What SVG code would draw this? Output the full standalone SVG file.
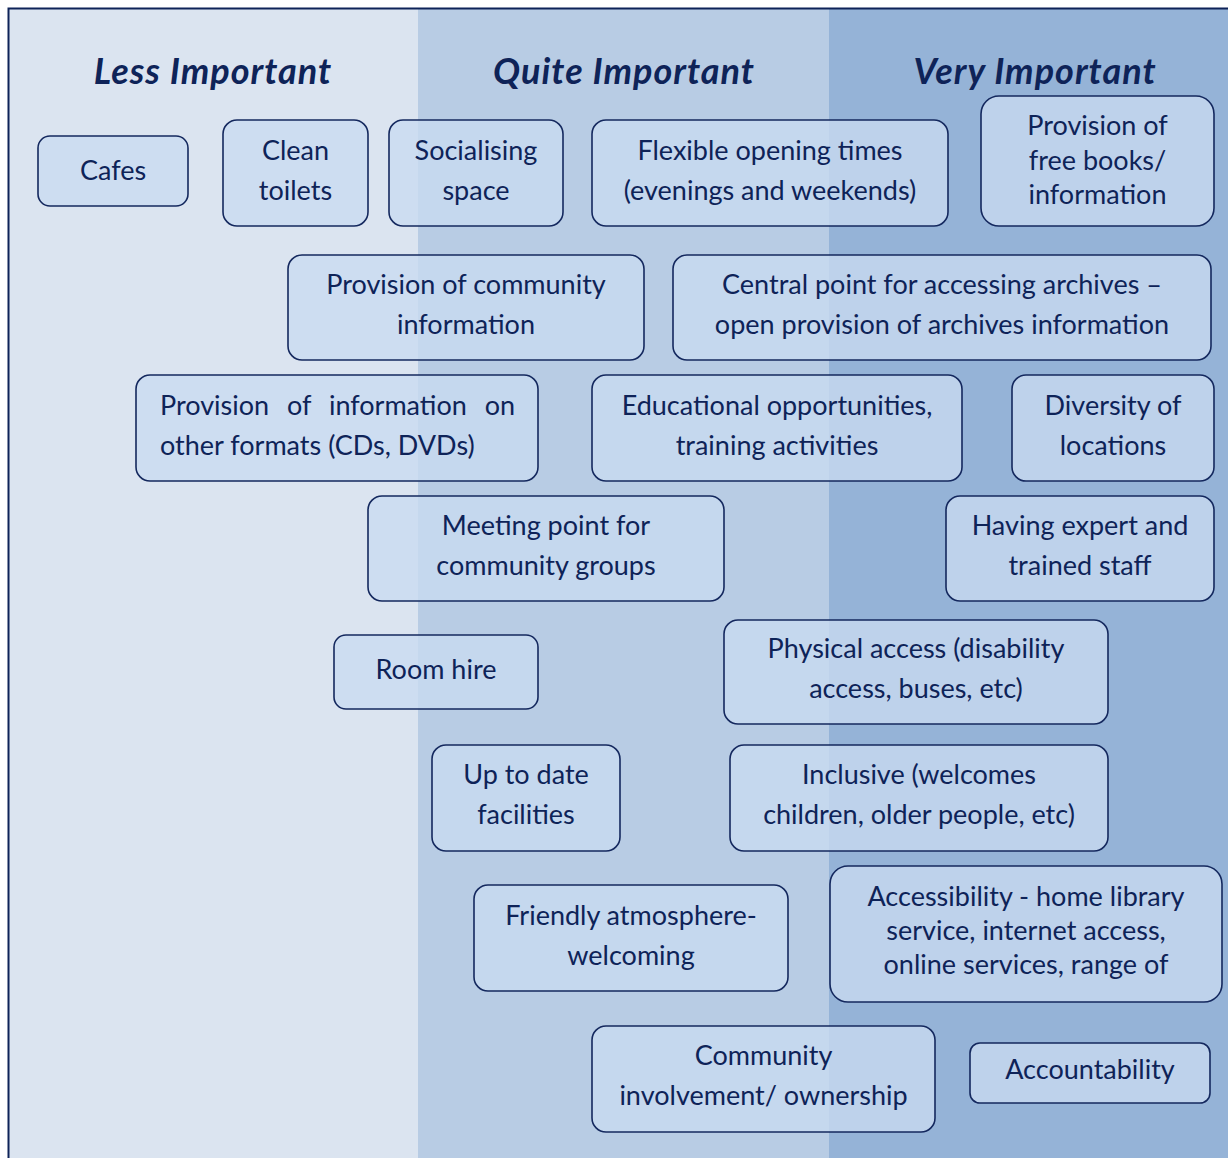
<svg xmlns="http://www.w3.org/2000/svg" width="1228" height="1158" viewBox="0 0 1228 1158">
<style>
.n rect{fill:#C9DBF1;fill-opacity:0.78;stroke:#14285E;stroke-width:1.6}
.n text{font-family:Lato,"Open Sans","Liberation Sans",sans-serif;font-size:27px;fill:#0E2358;text-anchor:middle}
.h{font-family:Lato,"Open Sans","Liberation Sans",sans-serif;font-size:36px;font-weight:bold;font-style:italic;fill:#0E2358;text-anchor:middle;letter-spacing:1px}
</style>
<rect x="0" y="0" width="1228" height="1158" fill="#ffffff"/>
<rect x="9" y="9" width="409" height="1149" fill="#DBE4F0"/>
<rect x="418" y="9" width="411" height="1149" fill="#B8CCE4"/>
<rect x="829" y="9" width="399" height="1149" fill="#95B3D7"/>
<path d="M8.5 1158 V8.5 H1228" fill="none" stroke="#0E2358" stroke-width="2"/>
<g id="headers">
<text class="h" x="213" y="84">Less Important</text>
<text class="h" x="624" y="84">Quite Important</text>
<text class="h" x="1035" y="84">Very Important</text>
</g>
<g id="connectors"></g>
<g id="n1" class="n"><rect x="38" y="136" width="150" height="70" rx="12"/><text x="113" y="180">Cafes</text></g>
<g id="n2" class="n"><rect x="223" y="120" width="145" height="106" rx="14"/><text x="295.5" y="160">Clean</text><text x="295.5" y="200">toilets</text></g>
<g id="n3" class="n"><rect x="389" y="120" width="174" height="106" rx="14"/><text x="476" y="160">Socialising</text><text x="476" y="200">space</text></g>
<g id="n4" class="n"><rect x="592" y="120" width="356" height="106" rx="14"/><text x="770" y="160">Flexible opening times</text><text x="770" y="200">(evenings and weekends)</text></g>
<g id="n5" class="n"><rect x="981" y="96" width="233" height="130" rx="18"/><text x="1097.5" y="135">Provision of</text><text x="1097.5" y="170">free books/</text><text x="1097.5" y="204">information</text></g>
<g id="n6" class="n"><rect x="288" y="255" width="356" height="105" rx="14"/><text x="466" y="294">Provision of community</text><text x="466" y="334">information</text></g>
<g id="n7" class="n"><rect x="673" y="255" width="538" height="105" rx="14"/><text x="942" y="294">Central point for accessing archives –</text><text x="942" y="334">open provision of archives information</text></g>
<g id="n8" class="n"><rect x="136" y="375" width="402" height="106" rx="14"/><text x="160" y="415" style="text-anchor:start;word-spacing:11px">Provision of information on</text><text x="160" y="455" style="text-anchor:start">other formats (CDs, DVDs)</text></g>
<g id="n9" class="n"><rect x="592" y="375" width="370" height="106" rx="14"/><text x="777" y="415">Educational opportunities,</text><text x="777" y="455">training activities</text></g>
<g id="n10" class="n"><rect x="1012" y="375" width="202" height="106" rx="14"/><text x="1113" y="415">Diversity of</text><text x="1113" y="455">locations</text></g>
<g id="n11" class="n"><rect x="368" y="496" width="356" height="105" rx="14"/><text x="546" y="535">Meeting point for</text><text x="546" y="575">community groups</text></g>
<g id="n12" class="n"><rect x="946" y="496" width="268" height="105" rx="14"/><text x="1080" y="535">Having expert and</text><text x="1080" y="575">trained staff</text></g>
<g id="n13" class="n"><rect x="334" y="635" width="204" height="74" rx="12"/><text x="436" y="679">Room hire</text></g>
<g id="n14" class="n"><rect x="724" y="620" width="384" height="104" rx="14"/><text x="916" y="658">Physical access (disability</text><text x="916" y="698">access, buses, etc)</text></g>
<g id="n15" class="n"><rect x="432" y="745" width="188" height="106" rx="14"/><text x="526" y="784">Up to date</text><text x="526" y="824">facilities</text></g>
<g id="n16" class="n"><rect x="730" y="745" width="378" height="106" rx="14"/><text x="919" y="784">Inclusive (welcomes</text><text x="919" y="824">children, older people, etc)</text></g>
<g id="n17" class="n"><rect x="474" y="885" width="314" height="106" rx="14"/><text x="631" y="925">Friendly atmosphere-</text><text x="631" y="965">welcoming</text></g>
<g id="n18" class="n"><rect x="830" y="866" width="392" height="136" rx="18"/><text x="1026" y="906">Accessibility - home library</text><text x="1026" y="940">service, internet access,</text><text x="1026" y="974">online services, range of</text></g>
<g id="n19" class="n"><rect x="592" y="1026" width="343" height="106" rx="14"/><text x="763.5" y="1065">Community</text><text x="763.5" y="1105">involvement/ ownership</text></g>
<g id="n20" class="n"><rect x="970" y="1043" width="240" height="60" rx="10"/><text x="1090" y="1079">Accountability</text></g>
</svg>
